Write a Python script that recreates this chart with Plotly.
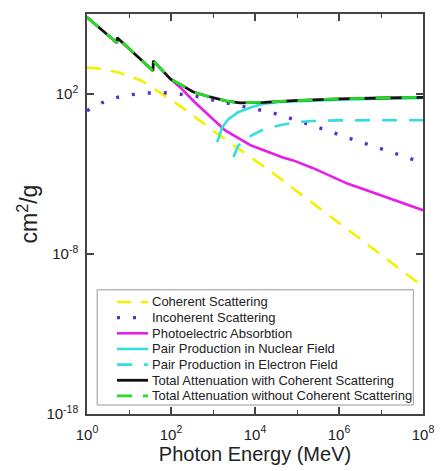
import numpy as np
import plotly.graph_objects as go

# ---- data (log10 of energy in MeV, log10 of cm^2/g) ----
coh_logE = [0.0, 0.4, 0.76, 1.3, 1.91, 2.37, 3.06, 4.45, 4.91, 6.44, 8.0]
coh_logV = [3.66, 3.55, 3.34, 2.83, 1.79, 0.96, -0.40, -2.98, -3.91, -6.92, -10.05]

inc_logE = [0.0, 0.34, 0.72, 1.07, 1.45, 1.84, 2.18, 2.6, 3.0, 3.5, 4.02, 4.37, 4.72,
            5.06, 5.41, 5.77, 6.12, 6.48, 6.83, 7.17, 7.53, 7.89, 8.0]
inc_logV = [0.96, 1.44, 1.79, 1.96, 2.06, 2.08, 2.0, 1.85, 1.62, 1.35, 1.07, 0.86, 0.59,
            0.30, -0.03, -0.33, -0.66, -0.95, -1.28, -1.57, -1.9, -2.21, -2.3]

pho_logE = [2.0, 2.22, 2.56, 2.95, 3.29, 3.91, 4.68, 4.91, 5.37, 6.2, 7.0, 8.0]
pho_logV = [2.9, 2.41, 1.5, 0.54, -0.28, -1.22, -1.98, -2.15, -2.62, -3.6, -4.35, -5.26]

pnu_logE = [3.1, 3.22, 3.37, 3.6, 3.91, 4.22, 4.6, 5.0, 6.0, 7.0, 8.0]
pnu_logV = [-1.01, -0.08, 0.44, 0.86, 1.17, 1.40, 1.50, 1.55, 1.64, 1.70, 1.75]

pel_logE = [3.49, 3.6, 3.91, 4.22, 4.68, 5.06, 5.37, 6.0, 7.0, 8.0]
pel_logV = [-1.94, -1.22, -0.6, -0.18, 0.09, 0.26, 0.31, 0.35, 0.36, 0.36]

tot_logE = [0.0, 0.71, 0.72, 1.57, 1.58, 1.99, 2.22, 2.53, 2.83, 3.06, 3.3, 3.64,
            4.0, 4.22, 4.91, 5.37, 6.0, 7.0, 8.0]
tot_logV = [6.8, 5.2, 5.52, 3.45, 4.07, 2.93, 2.6, 2.12, 1.89, 1.75, 1.57, 1.45,
            1.45, 1.48, 1.58, 1.63, 1.70, 1.75, 1.79]

names = ["Coherent Scattering", "Incoherent Scattering", "Photoelectric Absorbtion",
         "Pair Production in Nuclear Field", "Pair Production in Electron Field",
         "Total Attenuation with Coherent Scattering",
         "Total Attenuation without Coherent Scattering"]

x_tick_exp = [0, 2, 4, 6, 8]
x_minor_exp = [1, 3, 5, 7]
y_tick_exp = [-18, -8, 2]


def pw(a):
    return 10 ** np.array(a, dtype=float)


styles = [
    ("#f2f200", "14px,10px", 2.6),
    ("#5a2fcf", "3px,13px", 3.4),
    ("#e61ee6", "solid", 2.6),
    ("#35dede", "solid", 2.6),
    ("#35dede", "15px,12px", 2.6),
    ("#111111", "solid", 2.8),
    ("#25de25", "15px,11px", 2.8),
]
data = [(coh_logE, coh_logV), (inc_logE, inc_logV), (pho_logE, pho_logV),
        (pnu_logE, pnu_logV), (pel_logE, pel_logV), (tot_logE, tot_logV),
        (tot_logE, tot_logV)]

fig = go.Figure()
for (ex, vy), nm, (col, dash, w) in zip(data, names, styles):
    fig.add_trace(go.Scatter(x=pw(ex), y=pw(vy), mode="lines", name=nm,
                             showlegend=False,
                             line=dict(color=col, dash=dash, width=w)))

# ---- legend box drawn in paper coordinates (compact like the original) ----
W, H, L, T = 444, 471, 87, 14
PW, PH = W - L - 10, H - T - 56


def px(xp):
    return (xp - L) / PW


def py(yp):
    return (T + PH - yp) / PH


fig.add_shape(type="rect", xref="paper", yref="paper",
              x0=px(97.5), x1=px(424), y0=py(290.5), y1=py(406),
              line=dict(color="#999", width=1), fillcolor="white", layer="above")
row0, step = 302.7, 15.7
for i, (nm, (col, dash, w)) in enumerate(zip(names, styles)):
    yy = py(row0 + i * step)
    if i == 6:
        fig.add_shape(type="line", xref="paper", yref="paper", x0=px(118), x1=px(150),
                      y0=yy, y1=yy, line=dict(color="white", width=w), layer="above")
    fig.add_shape(type="line", xref="paper", yref="paper", x0=px(118), x1=px(150),
                  y0=yy, y1=yy, line=dict(color=col, dash=dash, width=w), layer="above")
    fig.add_annotation(text=nm, xref="paper", yref="paper", x=px(152), y=yy,
                       xanchor="left", yanchor="middle", showarrow=False,
                       font=dict(size=13, color="#222"))

font_family = "Liberation Sans, Arial, sans-serif"
fig.update_layout(
    width=W, height=H,
    margin=dict(l=L, r=10, t=T, b=56),
    paper_bgcolor="white", plot_bgcolor="white",
    font=dict(family=font_family, color="#222"),
    showlegend=False,
    xaxis=dict(type="log", range=[0, 8],
               tickmode="array", tickvals=pw(x_tick_exp),
               ticktext=["10<sup>%d</sup>" % e for e in x_tick_exp],
               showgrid=False, zeroline=False,
               showline=True, linecolor="#444", linewidth=1.5, mirror="ticks",
               ticks="inside", ticklen=7, tickwidth=1.5, tickcolor="#444",
               minor=dict(tickmode="array", tickvals=pw(x_minor_exp), ticks="inside",
                          ticklen=4, tickcolor="#444", tickwidth=1.2, showgrid=False),
               tickfont=dict(size=15), ticklabelstandoff=6,
               title=dict(text="Photon Energy (MeV)", font=dict(size=20), standoff=4)),
    yaxis=dict(type="log", range=[-18, 7],
               tickmode="array", tickvals=pw(y_tick_exp),
               ticktext=["10<sup>%d</sup>" % e for e in y_tick_exp],
               showgrid=False, zeroline=False,
               showline=True, linecolor="#444", linewidth=1.5, mirror="ticks",
               ticks="inside", ticklen=7, tickwidth=1.5, tickcolor="#444",
               tickfont=dict(size=15), ticklabelstandoff=4,
               title=dict(text="cm<sup>2</sup>/g", font=dict(size=23), standoff=2)),
)

fig.write_html("out.html")
